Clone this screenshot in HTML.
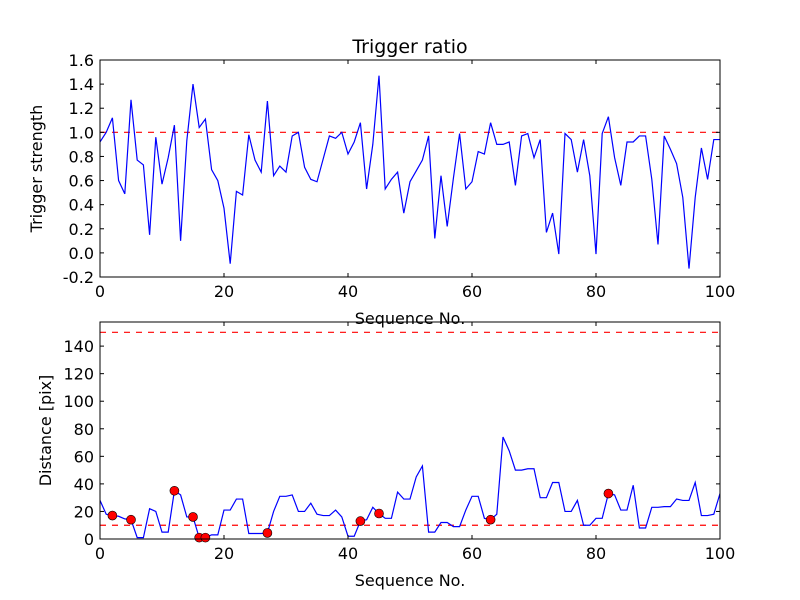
<!DOCTYPE html>
<html><head><meta charset="utf-8"><style>
html,body{margin:0;padding:0;background:#fff}
svg{display:block;font-family:"DejaVu Sans","Liberation Sans",sans-serif}
</style></head><body>
<svg id="c" width="800" height="600"></svg>
<script>
const seqIdx = Array.from({length:101},(_, i)=>i);
const triggerValues = [0.92,1.0,1.12,0.60,0.49,1.27,0.77,0.73,0.15,0.96,0.57,0.79,1.06,0.10,0.93,1.40,1.04,1.11,0.69,0.60,0.37,-0.09,0.51,0.48,0.98,0.77,0.67,1.26,0.64,0.72,0.67,0.97,1.0,0.71,0.61,0.59,0.78,0.97,0.95,1.0,0.82,0.92,1.08,0.53,0.90,1.47,0.53,0.61,0.67,0.33,0.59,0.68,0.77,0.97,0.12,0.64,0.22,0.62,0.99,0.53,0.59,0.84,0.82,1.08,0.90,0.90,0.92,0.56,0.97,0.99,0.79,0.94,0.17,0.33,-0.01,0.99,0.94,0.67,0.94,0.64,-0.01,0.99,1.13,0.79,0.56,0.92,0.92,0.97,0.97,0.61,0.07,0.97,0.86,0.74,0.46,-0.13,0.46,0.87,0.61,0.94,0.94];
const distValues = [28,18,17,16.5,14.6,14,1,1,22,20,5,5,35,32,16,16,1,1,3,3,21,21,29,29,4,4,4,4.4,20,31,31,32,20,20,26,18,17,17,21,16,2,2,13,14,23,18.5,15,15,34,29,29,45,53,5,5,12,12,9,9,21,31,31,15,14,18,74,64,50,50,51,51,30,30,41,41,20,20,28,10,10,15,15,33,32,21,21,39,8,8,23,23,23.5,23.5,29,28,28,41,17,17,18,33];
const outlierIdx = [2,5,12,15,16,17,27,42,45,63,82];
const triggerThreshold = [1.0];
const distThresholds = [10,150];
const xTicks = [0,20,40,60,80,100];
const yTicksTop = [-0.2,0.0,0.2,0.4,0.6,0.8,1.0,1.2,1.4,1.6];
const yTicksBot = [0,20,40,60,80,100,120,140];

const NS='http://www.w3.org/2000/svg';
const svg=document.getElementById('c');
function mk(tag,attrs,parent){const e=document.createElementNS(NS,tag);for(const k in attrs)e.setAttribute(k,attrs[k]);(parent||svg).appendChild(e);return e;}

function panel(cfg){
  const L=100,W=620,T=cfg.top,H=217;
  const g=mk('g',{});
  
  
  const sx=v=>L+(v-0)/(100-0)*W;
  const sy=v=>T+H-(v-cfg.ymin)/(cfg.ymax-cfg.ymin)*H;
  cfg.thr.forEach(t=>{
    const l=mk('line',{x1:L,x2:L+W,y1:sy(t),y2:sy(t),stroke:'#ff0000','stroke-width':1.2,'stroke-dasharray':'6,6'},g);
    
    
  });
  const pts=seqIdx.map((x,i)=>sx(x).toFixed(2)+','+sy(cfg.vals[i]).toFixed(2)).join(' ');
  const pl=mk('polyline',{points:pts,fill:'none',stroke:'#0000ff','stroke-width':1.2},g);
  
  
  if(cfg.dots){
    cfg.dots.forEach(i=>{
      const c=mk('circle',{cx:sx(seqIdx[i]),cy:sy(cfg.vals[i]),r:4.5,fill:'#ff0000',stroke:'#000','stroke-width':0.6},g);
      
      
    });
  }
  const f=mk('rect',{x:L,y:T,width:W,height:H,fill:'none',stroke:'#000','stroke-width':1},g);
  
  
  xTicks.forEach(t=>{
    const x=sx(t);
    mk('line',{x1:x,x2:x,y1:T+H,y2:T+H-4,stroke:'#000'},g);
    mk('line',{x1:x,x2:x,y1:T,y2:T+4,stroke:'#000'},g);
    const tx=mk('text',{x:x,y:T+H+20,'text-anchor':'middle','font-size':16},g);
    tx.textContent=t;
    
    
  });
  cfg.yt.forEach(t=>{
    const y=sy(t);
    mk('line',{x1:L,x2:L+4,y1:y,y2:y,stroke:'#000'},g);
    mk('line',{x1:L+W,x2:L+W-4,y1:y,y2:y,stroke:'#000'},g);
    const tx=mk('text',{x:L-6,y:y+6,'text-anchor':'end','font-size':16},g);
    tx.textContent=cfg.fmt(t);
    
    
  });
  const xl=mk('text',{x:L+W/2,y:T+H+47,'text-anchor':'middle','font-size':16},g);
  xl.textContent='Sequence No.';
  
  
  const yl=mk('text',{x:0,y:0,'text-anchor':'middle','font-size':16,transform:`translate(${cfg.ylx},${T+H/2}) rotate(-90)`},g);
  yl.textContent=cfg.ylabel;
  
  
}
panel({name:'trigger-panel',top:60,ymin:-0.2,ymax:1.6,vals:triggerValues,thr:triggerThreshold,yt:yTicksTop,fmt:t=>t.toFixed(1),ylabel:'Trigger strength',ylx:42});
panel({name:'distance-panel',top:322,ymin:0,ymax:157.5,vals:distValues,thr:distThresholds,yt:yTicksBot,dots:outlierIdx,fmt:t=>String(t),ylabel:'Distance [pix]',ylx:51});
const title=mk('text',{x:410,y:53,'text-anchor':'middle','font-size':19});
title.textContent='Trigger ratio';


</script>
</body></html>
